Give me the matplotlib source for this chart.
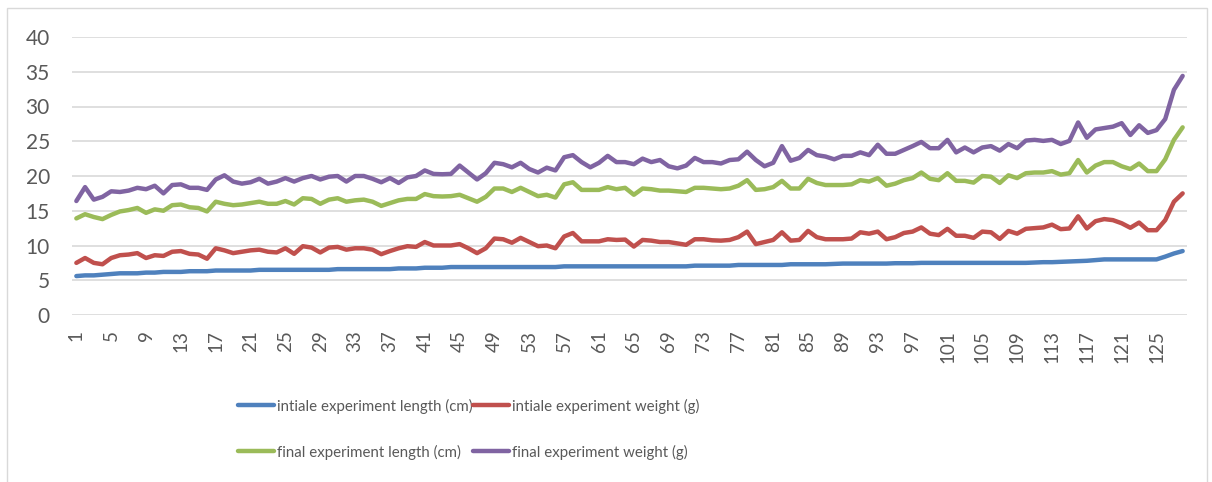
import matplotlib
matplotlib.use("Agg")
import matplotlib.pyplot as plt
from matplotlib.patches import Rectangle

plt.rcParams['font.family'] = ['Lato', 'DejaVu Sans']

# ---- data ----
samples = list(range(1, 129))
tick_labels = [str(v) for v in range(1, 129, 4)]
y_ticks = [0, 5, 10, 15, 20, 25, 30, 35, 40]

series_names = ["intiale experiment length (cm)", "intiale experiment weight (g)",
                "final experiment length (cm)", "final experiment weight (g)"]

init_length = [5.6, 5.7, 5.7, 5.8, 5.9, 6.0, 6.0, 6.0, 6.1, 6.1, 6.2, 6.2, 6.2, 6.3, 6.3, 6.3, 6.4, 6.4, 6.4, 6.4, 6.4, 6.5,
               6.5, 6.5, 6.5, 6.5, 6.5, 6.5, 6.5, 6.5, 6.6, 6.6, 6.6, 6.6, 6.6, 6.6, 6.6, 6.7, 6.7, 6.7, 6.8, 6.8, 6.8,
               6.9, 6.9, 6.9, 6.9, 6.9, 6.9, 6.9, 6.9, 6.9, 6.9, 6.9, 6.9, 6.9, 7.0, 7.0, 7.0, 7.0, 7.0, 7.0, 7.0, 7.0,
               7.0, 7.0, 7.0, 7.0, 7.0, 7.0, 7.0, 7.1, 7.1, 7.1, 7.1, 7.1, 7.2, 7.2, 7.2, 7.2, 7.2, 7.2, 7.3, 7.3, 7.3, 7.3,
               7.3, 7.35, 7.4, 7.4, 7.4, 7.4, 7.4, 7.4, 7.45, 7.45, 7.45, 7.5, 7.5, 7.5, 7.5, 7.5, 7.5, 7.5, 7.5, 7.5,
               7.5, 7.5, 7.5, 7.5, 7.55, 7.6, 7.6, 7.65, 7.7, 7.75, 7.8, 7.9, 8.0, 8.0, 8.0, 8.0, 8.0, 8.0, 8.0, 8.4, 8.85, 9.2]

init_weight = [7.5, 8.2, 7.5, 7.3, 8.2, 8.6, 8.7, 8.9, 8.2, 8.6, 8.5, 9.1, 9.2, 8.8, 8.7, 8.1, 9.6, 9.3, 8.9, 9.1, 9.3, 9.4,
               9.1, 9.0, 9.6, 8.8, 9.9, 9.7, 9.0, 9.7, 9.8, 9.4, 9.6, 9.6, 9.4, 8.75, 9.2, 9.6, 9.9, 9.8, 10.5, 10.0, 10.0,
               10.0, 10.2, 9.6, 8.9, 9.6, 11.0, 10.9, 10.4, 11.1, 10.5, 9.9, 10.0, 9.6, 11.3, 11.8, 10.6, 10.6, 10.6, 10.9, 10.8, 10.85,
               9.85, 10.8, 10.7, 10.5, 10.5, 10.3, 10.1, 10.9, 10.9, 10.75, 10.7, 10.8, 11.2, 12.0, 10.2, 10.5, 10.8, 11.9, 10.7, 10.8, 12.1, 11.2,
               10.9, 10.9, 10.9, 11.0, 11.9, 11.7, 12.0, 10.9, 11.2, 11.8, 12.0, 12.6, 11.7, 11.5, 12.4, 11.4, 11.4, 11.1, 12.0, 11.9,
               10.95, 12.1, 11.7, 12.4, 12.5, 12.6, 13.0, 12.35, 12.45, 14.2, 12.45, 13.5, 13.8, 13.65, 13.2, 12.55, 13.3, 12.2, 12.2, 13.65, 16.3, 17.5]

final_length = [13.9, 14.5, 14.1, 13.8, 14.4, 14.9, 15.1, 15.4, 14.7, 15.2, 15.0, 15.8, 15.9, 15.5, 15.4, 14.9, 16.3, 16.0, 15.8, 15.9, 16.1, 16.3,
                16.0, 16.0, 16.4, 15.9, 16.8, 16.7, 16.0, 16.6, 16.8, 16.3, 16.5, 16.6, 16.3, 15.7, 16.1, 16.5, 16.7, 16.7, 17.4, 17.1, 17.05,
                17.1, 17.3, 16.8, 16.3, 17.0, 18.2, 18.2, 17.7, 18.3, 17.7, 17.1, 17.3, 16.9, 18.8, 19.1, 18.0, 18.0, 18.0, 18.4, 18.1, 18.3,
                17.3, 18.2, 18.1, 17.9, 17.9, 17.8, 17.7, 18.3, 18.3, 18.2, 18.1, 18.2, 18.6, 19.4, 18.0, 18.1, 18.4, 19.3, 18.2, 18.2, 19.6, 19.0,
                18.7, 18.7, 18.7, 18.8, 19.4, 19.2, 19.7, 18.6, 18.9, 19.4, 19.7, 20.5, 19.6, 19.4, 20.4, 19.3, 19.3, 19.05, 20.0, 19.9,
                19.0, 20.1, 19.7, 20.4, 20.5, 20.5, 20.7, 20.2, 20.4, 22.3, 20.5, 21.5, 22.0, 22.0, 21.4, 21.0, 21.8, 20.7, 20.7, 22.4, 25.2, 27.0]

final_weight = [16.4, 18.4, 16.6, 17.0, 17.8, 17.7, 17.9, 18.3, 18.1, 18.6, 17.5, 18.7, 18.8, 18.3, 18.3, 18.0, 19.5, 20.1, 19.2, 18.9, 19.1, 19.6,
                18.9, 19.2, 19.7, 19.2, 19.7, 20.0, 19.5, 19.9, 20.0, 19.2, 20.0, 20.0, 19.6, 19.1, 19.7, 19.0, 19.8, 20.0, 20.8, 20.3, 20.25,
                20.3, 21.5, 20.5, 19.5, 20.4, 21.9, 21.7, 21.25, 21.9, 21.0, 20.5, 21.2, 20.8, 22.7, 23.0, 22.0, 21.25, 21.9, 22.9, 22.0, 22.0,
                21.7, 22.5, 22.0, 22.3, 21.4, 21.1, 21.5, 22.6, 22.0, 22.0, 21.8, 22.3, 22.4, 23.5, 22.3, 21.4, 21.9, 24.3, 22.2, 22.6, 23.75, 23.0,
                22.8, 22.4, 22.9, 22.9, 23.4, 23.0, 24.5, 23.2, 23.2, 23.75, 24.3, 24.9, 24.0, 24.0, 25.2, 23.4, 24.1, 23.4, 24.1, 24.3,
                23.65, 24.6, 24.0, 25.1, 25.2, 25.05, 25.2, 24.6, 25.05, 27.7, 25.5, 26.7, 26.9, 27.1, 27.6, 25.9, 27.3, 26.2, 26.6, 28.2, 32.4, 34.4]

colors = ["#4F81BD", "#C0504D", "#9BBB59", "#8064A2"]
text_color = "#595959"
grid_color = "#D9D9D9"

W, H = 1212, 482
fig = plt.figure(figsize=(W / 100, H / 100), dpi=100)
ax = fig.add_axes([72 / W, 1 - 315 / H, (1187 - 72) / W, (315 - 37) / H])

lines = []
for vals, c, name in zip([init_length, init_weight, final_length, final_weight], colors, series_names):
    ln, = ax.plot(samples, vals, color=c, lw=3.2, label=name, solid_joinstyle='round', solid_capstyle='round')
    lines.append(ln)

ax.set_xlim(0.5, 128.5)
ax.set_ylim(0, 40)
ax.set_yticks(y_ticks)
ax.set_yticklabels([str(v) for v in y_ticks])
ax.set_xticks(list(range(1, 129, 4)))
ax.set_xticklabels(tick_labels, rotation=90)
ax.tick_params(axis='y', length=0, pad=16, labelsize=15, labelcolor=text_color)
ax.tick_params(axis='x', length=0, pad=11, labelsize=13.5, labelcolor=text_color)
ax.grid(axis='y', color=grid_color, lw=1.2)
ax.set_axisbelow(True)
for s in ax.spines.values():
    s.set_visible(False)

# legend entries placed in a 2x2 grid: [blue, red] / [green, purple]
legend_fs = 10.8
entry_pos = [(238, 406), (473, 406), (238, 452), (473, 452)]
for ln, name, (px, py) in zip(lines, series_names, entry_pos):
    lg = fig.legend([ln], [name], loc='center left', bbox_to_anchor=(px / W, 1 - py / H),
                    frameon=False, fontsize=legend_fs, handlelength=36 / (legend_fs * 100 / 72),
                    handletextpad=0.2, borderaxespad=0, borderpad=0)
    for t in lg.get_texts():
        t.set_color(text_color)

fig.add_artist(Rectangle((7 / W, -0.05), (1207 - 7) / W, 1.05 - 8 / H, transform=fig.transFigure,
                         fill=False, edgecolor=grid_color, lw=1.0))

fig.savefig("out.png", dpi=100)
